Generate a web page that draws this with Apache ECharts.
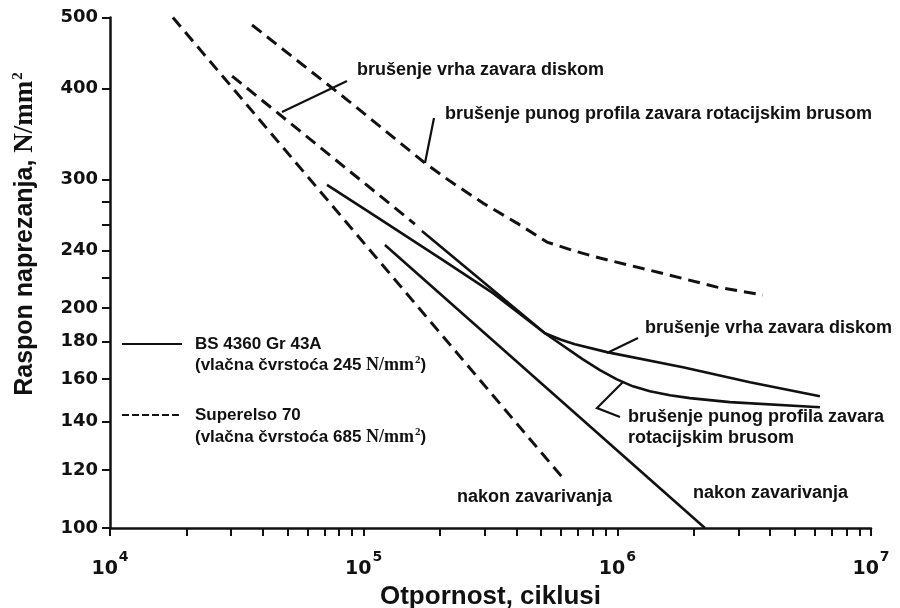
<!DOCTYPE html>
<html><head><meta charset="utf-8">
<script src="https://cdn.jsdelivr.net/npm/echarts@6/dist/echarts.min.js"></script>
<style>html,body{margin:0;padding:0;background:#fff}#c{width:900px;height:608px}</style>
</head><body><div id="c"></div>
<script>
// ---- axis ticks / labels ----
const xMajorTicks = [1e4, 1e5, 1e6, 1e7];
const xMinorTicks = [1e4,2e4,3e4,4e4,5e4,6e4,7e4,8e4,9e4,
                     1e5,2e5,3e5,4e5,5e5,6e5,7e5,8e5,9e5,
                     1e6,2e6,3e6,4e6,5e6,6e6,7e6,8e6,9e6,1e7];
const yTickLabels = [100,120,140,160,180,200,240,300,400,500];
const yTicks = [100,120,140,160,180,200,220,240,260,280,300,400,500];

// ---- BS 4360 Gr 43A (solid) [cycles, stress N/mm2] ----
const bsAsWelded = [[121300,244],[2214000,100]];
const bsDisk = [[71700,295],[112800,266.5],[205400,232.7],[323400,209.7],[518400,184.8],
                [600000,181],[680600,178.5],[910000,174.1],[1814000,166],[3332000,158.3],[6290000,151.5]];
const bsFullProfile = [[169700,255],[518400,184.8],[731800,170.2],[854000,164.5],[996300,159.8],
                       [1152000,156.3],[1344000,153.9],[1612000,152.0],[1933000,150.6],[2779000,148.7],[6290000,146.3]];
// ---- Superelso 70 (dashed) ----
const seAsWelded = [[17700,500],[620000,116.3]];
const seDisk = [[30300,415.7],[159200,260.7]];
const seFullProfile = [[36300,488.3],[88300,383],[174400,316],[218900,298.5],[295300,278.5],
                       [402100,261.5],[527900,246.3],[680600,239.4],[854000,234.2],[1344000,225.4],
                       [2470000,213.7],[3749000,208.4]];

const INK = '#111';
const SANS = '"Liberation Sans", Arial, sans-serif';
const SERIF = '"Liberation Serif", "Times New Roman", serif';
const DIG = '"DejaVu Sans", sans-serif';

function solid(name, data){
  return {type:'line', name, data, symbol:'none', smooth:false,
          lineStyle:{color:INK, width:2.6, type:'solid', join:'round'}, z:3, silent:true};
}
function dashed(name, data){
  return {type:'line', name, data, symbol:'none', smooth:false,
          lineStyle:{color:INK, width:3, type:[12,7], join:'round'}, z:3, silent:true};
}
function ann(text, x, y){
  return {type:'text', x, y, style:{text, font:'bold 18px '+SANS, fill:INK, verticalAlign:'middle', align:'left'}};
}
function seg(points, dash){
  return {type:'polyline', shape:{points}, style:{stroke:INK, lineWidth:2.2, fill:null, lineDash:dash||null}};
}
const legRich = {
  n:{font:'bold 18px '+SERIF, fill:INK},
  s:{font:'bold 11px '+SERIF, fill:INK, padding:[0,0,10,1]},
  p:{font:'bold 17px '+SANS, fill:INK}
};

const chart = echarts.init(document.getElementById('c'), null, {renderer:'canvas'});
chart.setOption({
  animation:false,
  backgroundColor:'#fff',
  grid:{left:110, right:29, top:17.5, bottom:80, containLabel:false, outerBoundsMode:'none'},
  xAxis:{
    type:'log', logBase:10, min:1e4, max:1e7,
    name:'Otpornost, ciklusi', nameLocation:'middle', nameGap:51,
    nameTextStyle:{fontFamily:SANS, fontWeight:'bold', fontSize:26, color:INK},
    axisLine:{onZero:false, lineStyle:{color:INK, width:2.5}},
    axisTick:{show:true, inside:false, length:8, lineStyle:{color:INK, width:2}, customValues:xMinorTicks},
    minorTick:{show:false},
    splitLine:{show:false},
    axisLabel:{customValues:xMajorTicks, margin:22, color:INK,
      formatter:function(v){ return '{b|10}{s|' + Math.round(Math.log10(v)) + '}'; },
      rich:{b:{fontFamily:DIG, fontWeight:'bold', fontSize:19, color:INK},
            s:{fontFamily:DIG, fontWeight:'bold', fontSize:14, color:INK, padding:[0,0,24,1]}}}
  },
  yAxis:{
    type:'log', logBase:10, min:100, max:500,
    axisLine:{show:true, onZero:false, lineStyle:{color:INK, width:2.5}},
    axisTick:{show:true, inside:false, length:8, lineStyle:{color:INK, width:2}, customValues:yTicks},
    minorTick:{show:false},
    splitLine:{show:false},
    axisLabel:{customValues:yTickLabels, margin:12, color:INK, fontFamily:DIG, fontWeight:'bold', fontSize:18,
      formatter:function(v){ return String(Math.round(v)); }}
  },
  series:[
    solid('BS 4360 Gr 43A - nakon zavarivanja', bsAsWelded),
    solid('BS 4360 Gr 43A - brušenje vrha zavara diskom', bsDisk),
    solid('BS 4360 Gr 43A - brušenje punog profila', bsFullProfile),
    dashed('Superelso 70 - nakon zavarivanja', seAsWelded),
    dashed('Superelso 70 - brušenje vrha zavara diskom', seDisk),
    dashed('Superelso 70 - brušenje punog profila', seFullProfile)
  ],
  graphic:[
    {type:'text', x:25, y:234, rotation:Math.PI/2,
     style:{text:'{a|Raspon naprezanja, }{b|N/mm}{c|2}', align:'center', verticalAlign:'middle',
       rich:{a:{font:'bold 25px '+SANS, fill:INK},
             b:{font:'bold 27px '+SERIF, fill:INK},
             c:{font:'bold 15px '+SERIF, fill:INK, padding:[0,0,14,1]}}}},
    ann('brušenje vrha zavara diskom', 357, 70),
    ann('brušenje punog profila zavara rotacijskim brusom', 445, 114),
    ann('brušenje vrha zavara diskom', 645, 328),
    ann('brušenje punog profila zavara', 628, 417),
    ann('rotacijskim brusom', 628, 438),
    ann('nakon zavarivanja', 457, 497),
    ann('nakon zavarivanja', 693, 493),
    seg([[282,112],[347,81]]),
    seg([[425,163],[434,118]]),
    seg([[607,353],[638,338]]),
    seg([[623,382],[597,408],[620,417]]),
    seg([[122,344],[182,344]]),
    {type:'text', x:195, y:344, style:{text:'BS 4360 Gr 43A', font:'bold 17px '+SANS, fill:INK, verticalAlign:'middle'}},
    {type:'text', x:195, y:365, style:{text:'(vlačna čvrstoća 245 {n|N/mm}{s|2}{p|)}', font:'bold 17px '+SANS, fill:INK, verticalAlign:'middle', rich:legRich}},
    seg([[122,415],[182,415]], [7,3]),
    {type:'text', x:195, y:415, style:{text:'Superelso 70', font:'bold 17px '+SANS, fill:INK, verticalAlign:'middle'}},
    {type:'text', x:195, y:437, style:{text:'(vlačna čvrstoća 685 {n|N/mm}{s|2}{p|)}', font:'bold 17px '+SANS, fill:INK, verticalAlign:'middle', rich:legRich}}
  ]
});
</script></body></html>
